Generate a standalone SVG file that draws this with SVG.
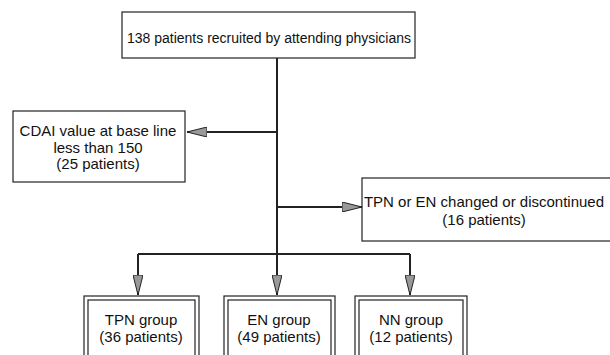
<svg xmlns="http://www.w3.org/2000/svg" width="610" height="355" viewBox="0 0 610 355">
<defs>
<style>
text{font-family:"Liberation Sans",Arial,sans-serif;font-size:15px;fill:#111;text-anchor:middle}
.top{font-size:14px}
.box{fill:#fff;stroke:#222;stroke-width:1.2}
.line{fill:none;stroke:#222;stroke-width:2}
</style>
<marker id="ah" viewBox="0 0 20 10" refX="20" refY="5" markerWidth="20" markerHeight="10" markerUnits="userSpaceOnUse" orient="auto">
<path d="M0,0 L20,5 L0,10 Z" fill="#999" stroke="#222" stroke-width="1"/>
</marker>
</defs>
<rect width="610" height="355" fill="#fff"/>
<g id="connectors">
<line class="line" x1="277" y1="58" x2="277" y2="254"/>
<line class="line" x1="277" y1="132" x2="187" y2="132" marker-end="url(#ah)"/>
<line class="line" x1="277" y1="207" x2="362" y2="207" marker-end="url(#ah)"/>
<polyline class="line" points="138,254 410,254"/>
<line class="line" x1="138" y1="254" x2="138" y2="295" marker-end="url(#ah)"/>
<line class="line" x1="277" y1="254" x2="277" y2="295" marker-end="url(#ah)"/>
<line class="line" x1="410" y1="254" x2="410" y2="295" marker-end="url(#ah)"/>
</g>
<g id="recruited">
<rect class="box" x="122" y="12" width="293" height="46"/>
<text class="top" x="269" y="43">138 patients recruited by attending physicians</text>
</g>
<g id="cdai">
<rect class="box" x="13" y="111" width="172" height="71"/>
<text x="98" y="136">CDAI value at base line</text>
<text x="98" y="152.5">less than 150</text>
<text x="98" y="169">(25 patients)</text>
</g>
<g id="changed">
<rect class="box" x="362" y="178" width="260" height="63"/>
<text x="484" y="207">TPN or EN changed or discontinued</text>
<text x="484" y="225">(16 patients)</text>
</g>
<g id="tpn">
<rect class="box" x="84" y="296" width="115" height="70"/>
<rect class="box" x="88" y="300" width="107" height="70"/>
<text x="141" y="325">TPN group</text>
<text x="141" y="341.5">(36 patients)</text>
</g>
<g id="en">
<rect class="box" x="224" y="296" width="111" height="70"/>
<rect class="box" x="228" y="300" width="103" height="70"/>
<text x="279" y="325">EN group</text>
<text x="279" y="341.5">(49 patients)</text>
</g>
<g id="nn">
<rect class="box" x="355" y="296" width="112" height="70"/>
<rect class="box" x="359" y="300" width="104" height="70"/>
<text x="411" y="325">NN group</text>
<text x="411" y="341.5">(12 patients)</text>
</g>
</svg>
